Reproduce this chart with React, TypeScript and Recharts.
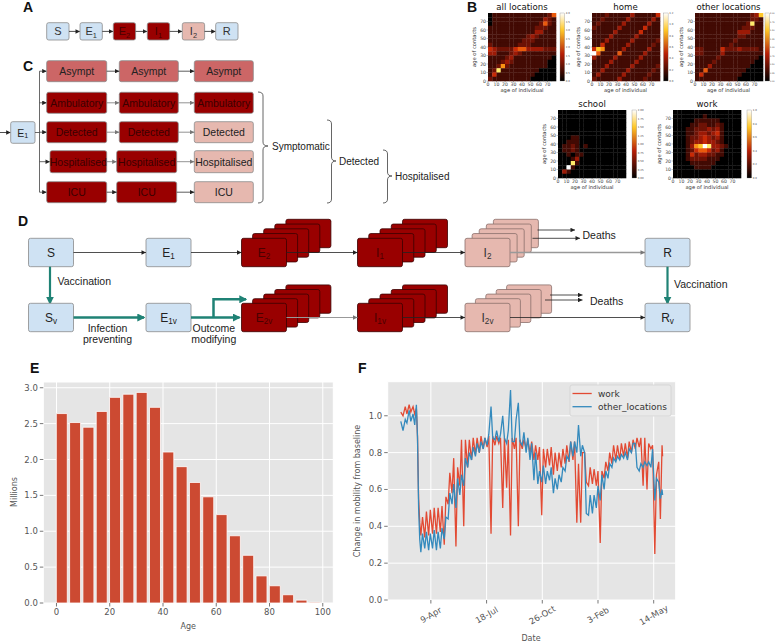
import React from "react";
import {
	Bar,
	CartesianGrid,
	ComposedChart,
	Line,
	LineChart,
	Scatter,
	ScatterChart,
	XAxis,
	YAxis,
} from "recharts";

const SANS = "'Liberation Sans', Arial, sans-serif";
const MPL = "'DejaVu Sans', sans-serif";

/* ---------- E: population by age group (millions) ---------- */
const ageGroups = [0, 5, 10, 15, 20, 25, 30, 35, 40, 45, 50, 55, 60, 65, 70, 75, 80, 85, 90, 95];
const populationMillions = [
	2.64, 2.515, 2.45, 2.67, 2.866, 2.91, 2.935, 2.727, 2.104, 1.9, 1.68, 1.48, 1.232, 0.937, 0.665,
	0.378, 0.24, 0.115, 0.04, 0.01,
];
const ageTicks = [0, 20, 40, 60, 80, 100];
const millionTicks = [0, 0.5, 1, 1.5, 2, 2.5, 3];

/* ---------- F: mobility (day 0 = 15 Feb 2020) ---------- */
const mobilityDays = [
	0, 4, 8, 11, 15, 18, 22, 25, 28, 30, 32, 34, 36, 39, 43, 46, 50, 53, 57, 60, 64, 67, 71, 74, 78, 81,
	85, 88, 92, 95, 99, 102, 106, 109, 113, 116, 120, 123, 127, 130, 134, 137, 141, 144, 148, 151, 155,
	158, 162, 165, 169, 172, 176, 179, 183, 186, 190, 193, 197, 200, 204, 207, 211, 214, 218, 221, 225,
	228, 232, 235, 239, 242, 246, 249, 253, 256, 260, 263, 267, 270, 274, 277, 281, 284, 288, 291, 295,
	298, 302, 305, 309, 312, 316, 319, 323, 326, 330, 333, 337, 340, 344, 347, 351, 354, 358, 361, 365,
	368, 372, 375, 379, 382, 386, 389, 393, 396, 400, 403, 407, 410, 414, 417, 421, 424, 428, 431, 435,
	438, 442, 445, 449, 452, 456, 459, 463, 466, 469, 470,
];
const workMobility = [
	1.02, 1.0, 1.05, 1.01, 1.06, 1.02, 1.05, 1.01, 1.04, 0.89, 0.55, 0.42, 0.35, 0.45, 0.34, 0.48, 0.35,
	0.49, 0.36, 0.5, 0.36, 0.5, 0.37, 0.51, 0.3, 0.56, 0.52, 0.69, 0.58, 0.77, 0.29, 0.72, 0.62, 0.87,
	0.4, 0.87, 0.72, 0.87, 0.76, 0.88, 0.79, 0.88, 0.8, 0.89, 0.82, 0.88, 0.83, 0.89, 0.36, 0.89, 0.84,
	0.89, 0.85, 0.88, 0.5, 0.88, 0.61, 0.87, 0.35, 0.88, 0.82, 0.88, 0.4, 0.87, 0.82, 0.87, 0.82, 0.87,
	0.8, 0.86, 0.76, 0.84, 0.76, 0.83, 0.46, 0.82, 0.72, 0.82, 0.73, 0.83, 0.68, 0.8, 0.7, 0.8, 0.72,
	0.82, 0.74, 0.84, 0.75, 0.86, 0.76, 0.86, 0.42, 0.74, 0.42, 0.8, 0.8, 0.64, 0.62, 0.72, 0.63, 0.71,
	0.62, 0.7, 0.31, 0.7, 0.66, 0.75, 0.7, 0.8, 0.74, 0.84, 0.76, 0.84, 0.76, 0.85, 0.78, 0.85, 0.77,
	0.86, 0.8, 0.87, 0.82, 0.88, 0.83, 0.88, 0.62, 0.88, 0.6, 0.85, 0.82, 0.84, 0.25, 0.68, 0.75, 0.44,
	0.84, 0.78,
];
const otherMobility = [
	0.97, 0.92, 0.98, 0.96, 1.03, 0.97, 1.01, 0.95, 1.06, 0.88, 0.5, 0.33, 0.26, 0.36, 0.28, 0.37, 0.27,
	0.36, 0.28, 0.38, 0.27, 0.37, 0.28, 0.39, 0.33, 0.45, 0.44, 0.58, 0.52, 0.63, 0.5, 0.66, 0.57, 0.68,
	0.62, 0.77, 0.72, 0.8, 0.76, 0.83, 0.78, 0.85, 0.8, 0.86, 0.82, 0.88, 0.84, 0.9, 1.05, 0.88, 0.87,
	0.92, 0.86, 0.9, 1.0, 0.88, 0.85, 0.92, 1.14, 0.86, 0.86, 0.98, 1.07, 0.86, 0.84, 0.91, 0.8, 0.88,
	0.76, 0.85, 0.65, 0.8, 0.63, 0.7, 0.64, 0.73, 0.63, 0.7, 0.65, 0.72, 0.58, 0.66, 0.6, 0.68, 0.64,
	0.72, 0.7, 0.78, 0.76, 0.86, 0.78, 0.86, 0.8, 0.95, 0.78, 0.84, 0.8, 0.47, 0.46, 0.57, 0.47, 0.57,
	0.5, 0.62, 0.54, 0.68, 0.6, 0.7, 0.66, 0.74, 0.72, 0.77, 0.75, 0.78, 0.76, 0.79, 0.77, 0.8, 0.76,
	0.82, 0.8, 0.85, 0.85, 0.72, 0.7, 0.74, 0.72, 0.75, 0.73, 0.75, 0.72, 0.82, 0.54, 0.66, 0.64, 0.55,
	0.6, 0.57,
];
const dateTickDays = [54, 154, 254, 354, 454];
const dateTickLabels = ["9-Apr", "18-Jul", "26-Oct", "3-Feb", "14-May"];
const mobilityTicks = [0, 0.2, 0.4, 0.6, 0.8, 1.0];

/* ---------- B: contact matrices, rows = contact age 75..0, cols = age 0..75, level 0-9 ---------- */
const contactTicks = [0, 10, 20, 30, 40, 50, 60, 70];
const allLocations = [
	"0111111111111125",
	"0111111111111321",
	"0111111111112521",
	"1111111111122211",
	"1111111111133111",
	"1111111112321111",
	"1111111122211111",
	"2111111222111111",
	"4322224553333222",
	"3311123211111111",
	"1111231111111110",
	"1112321111111100",
	"1126211111111100",
	"1281111111110000",
	"1411111111100000",
	"2111111111000000",
];
const homeContacts = [
	"1112111113111114",
	"1121111131111131",
	"1211111311111311",
	"2111113111114111",
	"1111131111141111",
	"1111311111311111",
	"1113111113111112",
	"1141111131111121",
	"4761111311111311",
	"9511115111113111",
	"3111131111131111",
	"1111311111311111",
	"1113111113111112",
	"1131111131111121",
	"1311111311111211",
	"2111113111112111",
];
const otherContacts = [
	"1111111111111237",
	"1111111111111221",
	"1111111111112811",
	"1111111111122211",
	"1111111111333111",
	"1111111111221111",
	"1111111112111111",
	"1111111121111111",
	"2211114222322221",
	"2211113111111111",
	"1111121111111110",
	"1111211111111100",
	"1113111111111000",
	"1151111111110000",
	"1411111111100000",
	"1111111111000000",
];
const schoolContacts = [
	"0000000000000000",
	"0000000000000000",
	"0000000000000000",
	"0000000000000000",
	"0000000000000000",
	"0000000000000000",
	"0001100000000000",
	"0011100000000000",
	"0112101000000000",
	"0112100000000000",
	"0010110000000000",
	"0001300000000000",
	"0008100000000000",
	"0091000000000000",
	"0310000000000000",
	"0000000000000000",
];
const workContacts = [
	"0000000000000000",
	"0000000100000000",
	"0000011111100000",
	"0000112211210000",
	"0001122232310000",
	"0001123323410000",
	"0001223432310000",
	"0001233433210000",
	"0001367983321000",
	"0001245542310000",
	"0001423322110000",
	"0001222211100000",
	"0000111111000000",
	"0000011110000000",
	"0000000000000000",
	"0000000000000000",
];
const cbAll = ["0.0", "0.5", "1.0", "1.5", "2.0", "2.5", "3.0", "3.5", "4.0"];
const cbHome = ["0.0", "0.2", "0.4", "0.6", "0.8", "1.0", "1.2"];
const cbOther = ["0.00", "0.25", "0.50", "0.75", "1.00", "1.25", "1.50", "1.75", "2.00"];
const cbSchool = ["0.00", "0.25", "0.50", "0.75", "1.00", "1.25", "1.50", "1.75", "2.00"];
const cbWork = ["0.0", "0.2", "0.4", "0.6", "0.8", "1.0"];

const ageRows = ageGroups.map((age, i) => ({ mid: age + 2.05, millions: populationMillions[i] }));
const mobilityRows = mobilityDays.map((day, i) => ({
	day,
	work: workMobility[i],
	other: otherMobility[i],
}));

// "hot"-like palette, one colour per level 0..9 (darker reds than the raw colormap)
const heatPalette = [
	"#000000",
	"#420a03",
	"#6e1205",
	"#9c1a06",
	"#c82a06",
	"#ea5a0c",
	"#fa9212",
	"#ffc828",
	"#ffec6a",
	"#ffffff",
];

function gridCells(grid: string[]) {
	const cells: { age: number; contact: number; level: number }[] = [];
	grid.forEach((row, r) => {
		for (let c = 0; c < row.length; c++) {
			cells.push({ age: c * 5 + 2.5, contact: (grid.length - 1 - r) * 5 + 2.5, level: Number(row[c]) });
		}
	});
	return cells;
}

const tinyTick = { fontSize: 4.6, fill: "#444", fontFamily: MPL };

function Heatmap({ grid, left, top, size, title, cb, cbGap, cbFont = 2.6, cbOffset = 5.8, id }: any) {
	const cell = size / 16;
	const cells = gridCells(grid);
	return (
		<>
			<div style={{ position: "absolute", left: left - 16, top }}>
				<ScatterChart width={size + 17} height={size + 8} margin={{ top: 0, right: 1, bottom: 0, left: 4 }}>
					<XAxis
						type="number"
						dataKey="age"
						domain={[0, 80]}
						ticks={contactTicks}
						interval={0}
						height={8}
						axisLine={false}
						tickSize={1.5}
						tickMargin={0.5}
						tickLine={{ stroke: "#666", strokeWidth: 0.4 }}
						tick={tinyTick}
					/>
					<YAxis
						type="number"
						dataKey="contact"
						domain={[0, 80]}
						ticks={contactTicks}
						interval={0}
						width={12}
						axisLine={false}
						tickSize={1.5}
						tickMargin={0.5}
						tickLine={{ stroke: "#666", strokeWidth: 0.4 }}
						tick={tinyTick}
					/>
					<Scatter
						data={cells}
						isAnimationActive={false}
						shape={(p: any) => (
							<rect
								x={p.cx - cell / 2}
								y={p.cy - cell / 2}
								width={cell + 0.3}
								height={cell + 0.3}
								fill={heatPalette[p.payload.level]}
							/>
						)}
					/>
				</ScatterChart>
			</div>
			<svg
				style={{ position: "absolute", left: 0, top: 0, pointerEvents: "none" }}
				width={776}
				height={200}
			>
				<defs>
					<linearGradient id={`cb-${id}`} x1="0" y1="1" x2="0" y2="0">
						<stop offset="0" stopColor="#000" />
						<stop offset="0.4" stopColor="#b81e06" />
						<stop offset="0.75" stopColor="#ffc828" />
						<stop offset="1" stopColor="#ffffff" />
					</linearGradient>
				</defs>
				<text x={left + size / 2} y={top - 3.5} textAnchor="middle" fontSize={8.6} fontFamily={MPL} fill="#111">
					{title}
				</text>
				<text x={left + size / 2} y={top + size + 10.5} textAnchor="middle" fontSize={5.2} fontFamily={MPL} fill="#333">
					age of individual
				</text>
				<text
					x={left - 12}
					y={top + size / 2}
					transform={`rotate(-90 ${left - 12} ${top + size / 2})`}
					textAnchor="middle"
					fontSize={5.2}
					fontFamily={MPL}
					fill="#333"
				>
					age of contacts
				</text>
				<rect
					x={left + size + cbGap}
					y={top}
					width={4.6}
					height={size}
					fill={`url(#cb-${id})`}
					stroke="#777"
					strokeWidth={0.3}
				/>
				{cb.map((lab: string, i: number) => (
					<text
						key={lab}
						x={left + size + cbGap + cbOffset}
						y={top + size - (i * size) / (cb.length - 1) + 1}
						fontSize={cbFont}
						fontFamily={MPL}
						fill="#444"
					>
						{lab}
					</text>
				))}
			</svg>
		</>
	);
}

const tickStyle = { fontSize: 8.5, fill: "#555", fontFamily: MPL };
const tickLineStyle = { stroke: "#555", strokeWidth: 0.8 };

function PopulationChart() {
	return (
		<ComposedChart width={345} height={304} data={ageRows} margin={{ top: 42, right: 11.7, bottom: 11, left: 13.3 }}>
			<CartesianGrid fill="#e5e5e5" stroke="#ffffff" strokeWidth={1} />
			<XAxis
				type="number"
				dataKey="mid"
				domain={[-4.95, 103.95]}
				ticks={ageTicks}
				interval={0}
				height={30}
				axisLine={false}
				tickSize={3.5}
				tickMargin={2}
				tickLine={tickLineStyle}
				tick={tickStyle}
			/>
			<YAxis
				type="number"
				domain={[0, 3.08]}
				ticks={millionTicks}
				interval={0}
				width={30}
				axisLine={false}
				tickSize={3.5}
				tickMargin={2}
				tickLine={tickLineStyle}
				tick={tickStyle}
				tickFormatter={(v: number) => v.toFixed(1)}
			/>
			<Bar dataKey="millions" fill="#cc4a32" stroke="#ffffff" strokeWidth={0.8} barSize={11} isAnimationActive={false} />
		</ComposedChart>
	);
}

function DateTick(props: any) {
	const { x, y, payload } = props;
	const label = dateTickLabels[dateTickDays.indexOf(payload.value)];
	const cy = y + 9.5;
	return (
		<text
			x={x}
			y={cy}
			transform={`rotate(-30 ${x} ${cy})`}
			textAnchor="middle"
			dominantBaseline="central"
			fontSize={8.5}
			fill="#555"
			fontFamily={MPL}
		>
			{label}
		</text>
	);
}

function MobilityChart() {
	return (
		<LineChart width={431} height={304} data={mobilityRows} margin={{ top: 41.7, right: 100.3, bottom: 14, left: 12.7 }}>
			<CartesianGrid fill="#e5e5e5" stroke="#ffffff" strokeWidth={1} />
			<XAxis
				type="number"
				dataKey="day"
				domain={[-23.5, 493.5]}
				ticks={dateTickDays}
				interval={0}
				height={30}
				axisLine={false}
				tickSize={3.5}
				tickMargin={2}
				tickLine={tickLineStyle}
				tick={<DateTick />}
			/>
			<YAxis
				type="number"
				domain={[0, 1.185]}
				ticks={mobilityTicks}
				interval={0}
				width={30}
				axisLine={false}
				tickSize={3.5}
				tickMargin={2}
				tickLine={tickLineStyle}
				tick={tickStyle}
				tickFormatter={(v: number) => v.toFixed(1)}
			/>
			<Line type="linear" dataKey="work" stroke="#E24A33" strokeWidth={1.3} dot={false} isAnimationActive={false} />
			<Line type="linear" dataKey="other" stroke="#348ABD" strokeWidth={1.3} dot={false} isAnimationActive={false} />
		</LineChart>
	);
}

/* ---------- A, C, D: model diagrams ---------- */
const LIGHT_BLUE = "#cfe2f3";
const DARK_RED = "#990000";
const PINK = "#e6b8af";
const ASYMPT = "#cc6666";
const TEAL = "#1f8275";

function Box({ x, y, w, h, fill, label, sub, size = 11, stroke = "#8a8a8a", color = "#222" }: any) {
	return (
		<g>
			<rect x={x} y={y} width={w} height={h} rx={2} fill={fill} stroke={stroke} strokeWidth={0.8} />
			<text
				x={x + w / 2}
				y={y + h / 2}
				textAnchor="middle"
				dominantBaseline="central"
				fontSize={size}
				fill={color}
				fontFamily={SANS}
			>
				{label}
				{sub ? (
					<tspan fontSize={size * 0.68} dy={size * 0.3}>
						{sub}
					</tspan>
				) : null}
			</text>
		</g>
	);
}

function Stack({ x, y, w, h, dx, dy, fill, stroke, label, sub, color }: any) {
	return (
		<g>
			{[4, 3, 2, 1].map((k) => (
				<rect key={k} x={x + k * dx} y={y - k * dy} width={w} height={h} rx={2} fill={fill} stroke={stroke} strokeWidth={0.8} />
			))}
			<Box x={x} y={y} w={w} h={h} fill={fill} stroke={stroke} label={label} sub={sub} color={color} size={12} />
		</g>
	);
}

function Arrow({ x1, y1, x2, y2, color = "#222", width = 0.8, marker = "ah" }: any) {
	return <line x1={x1} y1={y1} x2={x2} y2={y2} stroke={color} strokeWidth={width} markerEnd={`url(#${marker})`} />;
}

function brace(x: number, y1: number, y2: number, tip: number, w: number) {
	const xm = x + w * 0.5;
	return `M${x},${y1} Q${xm},${y1} ${xm},${y1 + 4} L${xm},${tip - 4} Q${xm},${tip} ${x + w},${tip} Q${xm},${tip} ${xm},${tip + 4} L${xm},${y2 - 4} Q${xm},${y2} ${x},${y2}`;
}

const cCols = [
	[46.7, 106.7],
	[119.3, 178.3],
	[194.3, 253.3],
];
const cRows = [
	{ label: "Asympt", y: 60.7, fills: [ASYMPT, ASYMPT, ASYMPT], arrow: "#333", cols: cCols },
	{ label: "Ambulatory", y: 92.3, fills: [DARK_RED, DARK_RED, DARK_RED], arrow: "#777", cols: cCols },
	{ label: "Detected", y: 121.7, fills: [DARK_RED, DARK_RED, PINK], arrow: "#777", cols: cCols },
	{
		label: "Hospitalised",
		y: 150.7,
		fills: [DARK_RED, DARK_RED, PINK],
		arrow: "#777",
		cols: [
			[50, 106.7],
			[116.7, 176.7],
			[194.3, 253.3],
		],
	},
	{
		label: "ICU",
		y: 181.7,
		fills: [DARK_RED, DARK_RED, PINK],
		arrow: "#333",
		cols: [
			[46.7, 106.7],
			[116.7, 176.7],
			[194.3, 253.3],
		],
	},
];

function Diagrams() {
	const aBoxes = [
		{ x: 46.7, fill: LIGHT_BLUE, label: "S" },
		{ x: 80, fill: LIGHT_BLUE, label: "E", sub: "1" },
		{ x: 113.3, fill: DARK_RED, label: "E", sub: "2" },
		{ x: 147.3, fill: DARK_RED, label: "I", sub: "1" },
		{ x: 182.3, fill: PINK, label: "I", sub: "2" },
		{ x: 215.7, fill: LIGHT_BLUE, label: "R" },
	];
	const BW = 45;
	const BH = 28.4;
	const r1 = 238.3;
	const r2 = 303.3;
	const c1 = r1 + BH / 2;
	const c2 = r2 + BH / 2;
	return (
		<svg style={{ position: "absolute", left: 0, top: 0 }} width={776} height={644}>
			<defs>
				<marker id="ah" viewBox="0 0 6 6" refX="6" refY="3" markerWidth="5" markerHeight="4.5" markerUnits="userSpaceOnUse" orient="auto">
					<path d="M0,0 L6,3 L0,6 z" fill="#222" />
				</marker>
				<marker id="ahg" viewBox="0 0 6 6" refX="6" refY="3" markerWidth="5" markerHeight="4.5" markerUnits="userSpaceOnUse" orient="auto">
					<path d="M0,0 L6,3 L0,6 z" fill="#777" />
				</marker>
				<marker id="aht" viewBox="0 0 6 6" refX="5" refY="3" markerWidth="8" markerHeight="8" markerUnits="userSpaceOnUse" orient="auto">
					<path d="M0,0 L6,3 L0,6 z" fill={TEAL} />
				</marker>
			</defs>

			{/* A */}
			{aBoxes.map((b, i) => (
				<g key={i}>
					<Box x={b.x} y={22.7} w={22.3} h={17.3} fill={b.fill} label={b.label} sub={b.sub} size={11} color={b.fill === DARK_RED ? "#4a0000" : "#333"} />
					{i < aBoxes.length - 1 ? <Arrow x1={b.x + 22.3} y1={31.4} x2={aBoxes[i + 1].x} y2={31.4} /> : null}
				</g>
			))}

			{/* C */}
			<Arrow x1={0} y1={132.5} x2={10.7} y2={132.5} />
			<Box x={10.7} y={121.7} w={24.3} h={21.6} fill={LIGHT_BLUE} label="E" sub="1" size={10.5} />
			<line x1={35} y1={132.5} x2={39.5} y2={132.5} stroke="#444" strokeWidth={0.8} />
			<line x1={39.5} y1={71.2} x2={39.5} y2={192.2} stroke="#444" strokeWidth={0.8} />
			{cRows.map((row, ri) => {
				const h = ri === 3 ? 22 : 21;
				const cy = row.y + h / 2;
				return (
					<g key={row.label}>
						<Arrow x1={39.5} y1={cy} x2={row.cols[0][0]} y2={cy} color="#444" />
						{row.cols.map(([x0, x1], ci) => (
							<Box
								key={ci}
								x={x0}
								y={row.y}
								w={x1 - x0}
								h={h}
								fill={row.fills[ci]}
								label={row.label}
								size={10.5}
								color={row.fills[ci] === DARK_RED ? "#3a0000" : "#222"}
							/>
						))}
						<Arrow x1={row.cols[0][1]} y1={cy} x2={row.cols[1][0]} y2={cy} color={row.arrow} marker={row.arrow === "#777" ? "ahg" : "ah"} />
						<Arrow x1={row.cols[1][1]} y1={cy} x2={row.cols[2][0]} y2={cy} color={row.arrow} marker={row.arrow === "#777" ? "ahg" : "ah"} />
					</g>
				);
			})}
			<path d={brace(258, 92, 203, 146, 10)} fill="none" stroke="#555" strokeWidth={0.9} />
			<text x={272} y={146} dominantBaseline="central" fontSize={10} fontFamily={SANS} fill="#222">Symptomatic</text>
			<path d={brace(327, 120, 203, 161, 9)} fill="none" stroke="#555" strokeWidth={0.9} />
			<text x={339} y={161} dominantBaseline="central" fontSize={10} fontFamily={SANS} fill="#222">Detected</text>
			<path d={brace(383, 150, 203, 176, 9)} fill="none" stroke="#555" strokeWidth={0.9} />
			<text x={395} y={176} dominantBaseline="central" fontSize={10} fontFamily={SANS} fill="#222">Hospitalised</text>

			{/* D row 1 */}
			<Box x={28.5} y={r1} w={BW} h={BH} fill={LIGHT_BLUE} label="S" size={12} />
			<Box x={146} y={r1} w={BW} h={BH} fill={LIGHT_BLUE} label="E" sub="1" size={12} />
			<Stack x={241.5} y={r1} w={BW} h={BH} dx={11.1} dy={4.75} fill={DARK_RED} stroke="#3a0000" label="E" sub="2" color="#4a0000" />
			<Stack x={357.5} y={r1} w={BW} h={BH} dx={11.25} dy={4.75} fill={DARK_RED} stroke="#3a0000" label="I" sub="1" color="#4a0000" />
			<Stack x={465} y={r1} w={BW} h={BH} dx={7.1} dy={4.75} fill={PINK} stroke="#8a706c" label="I" sub="2" color="#333" />
			<Box x={645} y={r1} w={BW} h={BH} fill={LIGHT_BLUE} label="R" size={12} />
			<Arrow x1={73.5} y1={c1} x2={146} y2={c1} />
			<Arrow x1={191} y1={c1} x2={241.5} y2={c1} />
			<Arrow x1={286.5} y1={c1} x2={357.5} y2={c1} />
			<Arrow x1={402.5} y1={c1} x2={465} y2={c1} />
			<Arrow x1={510} y1={c1} x2={645} y2={c1} color="#999" width={1.5} marker="ahg" />
			<Arrow x1={537.5} y1={230} x2={575} y2={230} />
			<Arrow x1={532.5} y1={238.3} x2={580} y2={238.3} />
			<text x={582.5} y={235} dominantBaseline="central" fontSize={10.5} fontFamily={SANS} fill="#222">Deaths</text>

			{/* vaccination */}
			<Arrow x1={50} y1={r1 + BH} x2={50} y2={r2} color={TEAL} width={2.2} marker="aht" />
			<text x={57.5} y={281} dominantBaseline="central" fontSize={10.5} fontFamily={SANS} fill="#222">Vaccination</text>
			<Arrow x1={667.5} y1={r1 + BH} x2={667.5} y2={r2} color={TEAL} width={2.2} marker="aht" />
			<text x={674} y={284} dominantBaseline="central" fontSize={10.5} fontFamily={SANS} fill="#222">Vaccination</text>

			{/* D row 2 */}
			<Box x={28.5} y={r2} w={BW} h={BH} fill={LIGHT_BLUE} label="S" sub="v" size={12} />
			<Box x={146} y={r2} w={BW} h={BH} fill={LIGHT_BLUE} label="E" sub="1v" size={12} />
			<Stack x={241.5} y={r2} w={BW} h={BH} dx={11.1} dy={4.6} fill={DARK_RED} stroke="#3a0000" label="E" sub="2v" color="#4a0000" />
			<Stack x={357.5} y={r2} w={BW} h={BH} dx={11.25} dy={4.6} fill={DARK_RED} stroke="#3a0000" label="I" sub="1v" color="#4a0000" />
			<Stack x={465} y={r2} w={BW} h={BH} dx={10.4} dy={4.6} fill={PINK} stroke="#8a706c" label="I" sub="2v" color="#333" />
			<Box x={645} y={r2} w={BW} h={BH} fill={LIGHT_BLUE} label="R" sub="v" size={12} />
			<Arrow x1={73.5} y1={c2} x2={144} y2={c2} color={TEAL} width={2.5} marker="aht" />
			<Arrow x1={191} y1={c2} x2={239.5} y2={c2} color={TEAL} width={2.5} marker="aht" />
			<path d={`M213.5,${c2} V299.3 H246`} fill="none" stroke={TEAL} strokeWidth={2.5} markerEnd="url(#aht)" />
			<Arrow x1={286.5} y1={c2} x2={357.5} y2={c2} color="#999" width={1.2} marker="ahg" />
			<Arrow x1={402.5} y1={c2} x2={465} y2={c2} />
			<Arrow x1={510} y1={c2} x2={645} y2={c2} />
			<Arrow x1={550} y1={295} x2={582.5} y2={295} />
			<Arrow x1={545} y1={300} x2={582.5} y2={300} />
			<text x={590} y={300.8} dominantBaseline="central" fontSize={10.5} fontFamily={SANS} fill="#222">Deaths</text>
			<text x={107.5} y={327.5} textAnchor="middle" dominantBaseline="central" fontSize={10.5} fontFamily={SANS} fill="#222">Infection</text>
			<text x={107.5} y={339} textAnchor="middle" dominantBaseline="central" fontSize={10.5} fontFamily={SANS} fill="#222">preventing</text>
			<text x={213.8} y={327.5} textAnchor="middle" dominantBaseline="central" fontSize={10.5} fontFamily={SANS} fill="#222">Outcome</text>
			<text x={213.8} y={339} textAnchor="middle" dominantBaseline="central" fontSize={10.5} fontFamily={SANS} fill="#222">modifying</text>
		</svg>
	);
}

function Labels() {
	const panel = { fontSize: 14, fontWeight: 700, fontFamily: SANS, fill: "#111" };
	const axisLab = { fontSize: 8, fontFamily: MPL, fill: "#555" };
	return (
		<svg style={{ position: "absolute", left: 0, top: 0, pointerEvents: "none" }} width={776} height={644}>
			<text x={23} y={12} {...panel}>A</text>
			<text x={467} y={12} {...panel}>B</text>
			<text x={23} y={71} {...panel}>C</text>
			<text x={18} y={226} {...panel}>D</text>
			<text x={30} y={373} {...panel}>E</text>
			<text x={358} y={373} {...panel}>F</text>

			<text x={14} y={492} transform="rotate(-90 14 492)" textAnchor="middle" dominantBaseline="central" {...axisLab}>Millions</text>
			<text x={188.3} y={626} textAnchor="middle" dominantBaseline="central" {...axisLab}>Age</text>
			<text x={357} y={491} transform="rotate(-90 357 491)" textAnchor="middle" dominantBaseline="central" {...axisLab}>
				Change in mobility from baseline
			</text>
			<text x={531} y={638} textAnchor="middle" dominantBaseline="central" {...axisLab}>Date</text>

			{/* legend */}
			<rect x={570} y={385} width={101} height={31} rx={2} fill="#e9e9e9" stroke="#d2d2d2" strokeWidth={0.8} />
			<line x1={572.5} y1={393.5} x2={591.7} y2={393.5} stroke="#E24A33" strokeWidth={1.3} />
			<line x1={572.5} y1={406.7} x2={591.7} y2={406.7} stroke="#348ABD" strokeWidth={1.3} />
			<text x={598} y={393.5} dominantBaseline="central" fontSize={9} fontFamily={MPL} fill="#333">work</text>
			<text x={598} y={406.7} dominantBaseline="central" fontSize={9} fontFamily={MPL} fill="#333">other_locations</text>
		</svg>
	);
}

export default function App() {
	return (
		<div
			style={{
				position: "absolute",
				left: 0,
				top: 0,
				width: 776,
				height: 644,
				background: "#ffffff",
				overflow: "hidden",
				fontFamily: SANS,
			}}
		>
			<Diagrams />
			<Heatmap id="all" grid={allLocations} left={488} top={13} size={68} title="all locations" cb={cbAll} cbGap={4} />
			<Heatmap id="home" grid={homeContacts} left={591.5} top={13} size={68} title="home" cb={cbHome} cbGap={4} />
			<Heatmap
				id="other"
				grid={otherContacts}
				left={694.5}
				top={13}
				size={68}
				title="other locations"
				cb={cbOther}
				cbGap={2.5}
				cbFont={2.1}
				cbOffset={5}
			/>
			<Heatmap id="school" grid={schoolContacts} left={558} top={110} size={68} title="school" cb={cbSchool} cbGap={6} />
			<Heatmap id="work" grid={workContacts} left={673} top={110} size={68} title="work" cb={cbWork} cbGap={6} />
			<div style={{ position: "absolute", left: 0, top: 340 }}>
				<PopulationChart />
			</div>
			<div style={{ position: "absolute", left: 345, top: 340 }}>
				<MobilityChart />
			</div>
			<Labels />
		</div>
	);
}
